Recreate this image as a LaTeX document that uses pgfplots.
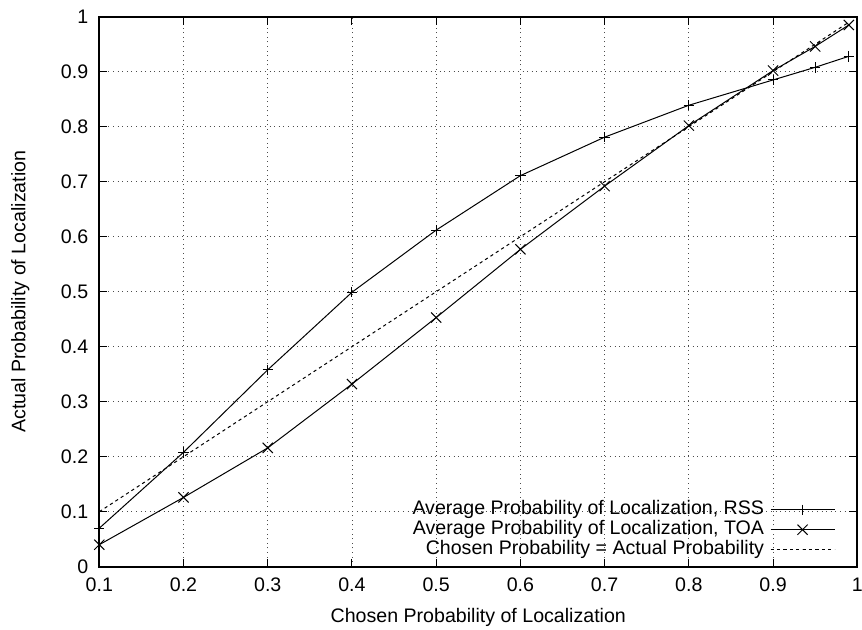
\documentclass[border=0pt]{standalone}
\usepackage{pgfplots}
\pgfplotsset{compat=1.18}
\usepackage{fontspec}
\setmainfont{Liberation Sans}
\pgfplotsset{
  layers/mylayers/.define layer set={axis background,axis grid,axis cover,axis ticks,axis lines,axis tick labels,pre main,main,axis descriptions,axis foreground}{},
}
\begin{document}
\begin{tikzpicture}[font=\fontsize{9.8}{11.8}\selectfont]
\begin{axis}[
  set layers=mylayers,
  scale only axis,
  width=379pt, height=275pt,
  xmin=0.1, xmax=1, ymin=0, ymax=1,
  xtick={0.1,0.2,0.3,0.4,0.5,0.6,0.7,0.8,0.9,1},
  xticklabels={0.1,0.2,0.3,0.4,0.5,0.6,0.7,0.8,0.9,1},
  ytick={0,0.1,0.2,0.3,0.4,0.5,0.6,0.7,0.8,0.9,1},
  yticklabels={0,0.1,0.2,0.3,0.4,0.5,0.6,0.7,0.8,0.9,1},
  /pgf/number format/assume math mode=true,
  tick align=inside,
  major tick length=4pt,
  tick style={black, line width=0.5pt},
  axis line style={line width=0.8pt},
  grid=major,
  grid style={black!70, line width=0.45pt, dash pattern=on 0.5pt off 1.8pt},
  xticklabel style={yshift=-2pt},
  yticklabel style={xshift=-2pt},
  xlabel={Chosen Probability of Localization},
  ylabel={Actual Probability of Localization},
  xlabel style={at={(axis description cs:0.5,-0.1007)}, anchor=base},
  ylabel style={at={(axis description cs:-0.1042,0.5)}, anchor=center},
  legend cell align=right,
  legend plot pos=right,
  legend image code/.code={\draw[mark repeat=2,mark phase=2,#1] plot coordinates {(0pt,0pt)(16pt,0pt)(32pt,0pt)};},
  legend style={draw=none, fill=none, inner sep=0pt, outer sep=0pt,
    at={(axis description cs:0.9707,0.0)}, anchor=south east, yshift=3.5pt,
    column sep=3pt, row sep=0pt,
    nodes={inner sep=0pt, text height=7.5pt, text depth=2.5pt}},
]
\begin{pgfonlayer}{axis cover}
\fill[white] (axis cs:0.33,0.003) rectangle (axis cs:0.995,0.128);
\end{pgfonlayer}
\addplot[black, line width=0.5pt, mark=+, mark size=2.6pt, mark options={solid}] coordinates {
(0.1,0.070)(0.2,0.208)(0.3,0.358)(0.4,0.499)(0.5,0.612)(0.6,0.711)(0.7,0.781)(0.8,0.839)(0.9,0.885)(0.95,0.908)(0.99,0.928)};
\addlegendentry{Average Probability of Localization, RSS}
\addplot[black, line width=0.5pt, mark=x, mark size=3.6pt, mark options={solid}] coordinates {
(0.1,0.040)(0.2,0.126)(0.3,0.216)(0.4,0.332)(0.5,0.453)(0.6,0.577)(0.7,0.692)(0.8,0.802)(0.9,0.902)(0.95,0.946)(0.99,0.985)};
\addlegendentry{Average Probability of Localization, TOA}
\addplot[black, line width=0.5pt, dash pattern=on 1.6pt off 1.6pt] coordinates {(0.1,0.1)(0.99,0.99)};
\addlegendentry{Chosen Probability = Actual Probability}
\end{axis}
\pgfresetboundingbox
\useasboundingbox (-49.65pt,-31.15pt) rectangle (381.35pt,283.35pt);
\end{tikzpicture}
\end{document}
